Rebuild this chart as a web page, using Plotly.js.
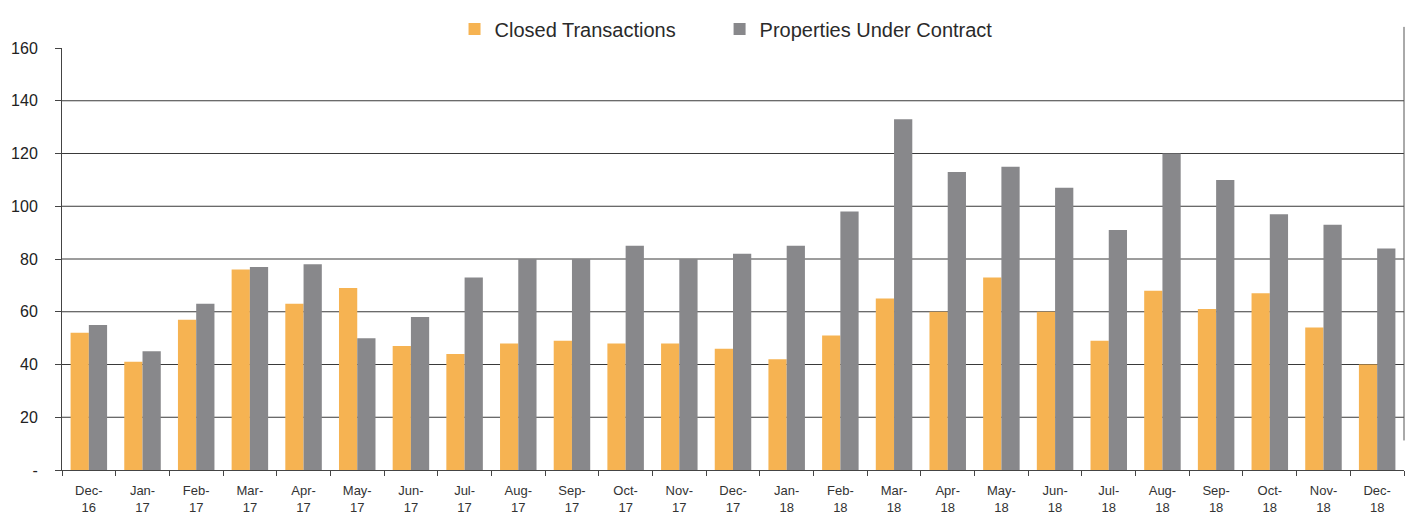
<!DOCTYPE html>
<html>
<head>
<meta charset="utf-8">
<script src="https://cdn.plot.ly/plotly-3.0.1.min.js"></script>
<style>html,body{margin:0;padding:0;background:#fff;}#chart{width:1414px;height:514px;}</style>
</head>
<body>
<div id="chart"></div>
<script>
const months = ["Dec-<br>16","Jan-<br>17","Feb-<br>17","Mar-<br>17","Apr-<br>17","May-<br>17","Jun-<br>17","Jul-<br>17","Aug-<br>17","Sep-<br>17","Oct-<br>17","Nov-<br>17","Dec-<br>17","Jan-<br>18","Feb-<br>18","Mar-<br>18","Apr-<br>18","May-<br>18","Jun-<br>18","Jul-<br>18","Aug-<br>18","Sep-<br>18","Oct-<br>18","Nov-<br>18","Dec-<br>18"];
const closedTransactions = [52,41,57,76,63,69,47,44,48,49,48,48,46,42,51,65,60,73,60,49,68,61,67,54,40];
const propertiesUnderContract = [55,45,63,77,78,50,58,73,80,80,85,80,82,85,98,133,113,115,107,91,120,110,97,93,84];
const yTickVals = [0,20,40,60,80,100,120,140,160];
const yTickText = ["-","20","40","60","80","100","120","140","160"];
const gridVals = [20,40,60,80,100,120,140];

const font = "Liberation Sans, Arial, sans-serif";

const traces = [
  {type:"bar", name:"Closed Transactions", x:months, y:closedTransactions, marker:{color:"#F6B352"}, legend:"legend"},
  {type:"bar", name:"Properties Under Contract", x:months, y:propertiesUnderContract, marker:{color:"#88888B"}, legend:"legend2"}
];

const shapes = gridVals.map(v => ({type:"line", xref:"paper", yref:"y", x0:0, x1:1, y0:v, y1:v, line:{color:"#3a3a3a", width:1}, layer:"below"}));
shapes.push({type:"line", xref:"paper", yref:"paper", x0:1.0, x1:1.0, y0:0.07, y1:1.05, line:{color:"#555", width:1}});

const legendStyle = {orientation:"h", y:1.045, xanchor:"left", yanchor:"middle", font:{size:20, color:"#2a2a2a", family:font}, itemwidth:30, bgcolor:"rgba(0,0,0,0)"};

const layout = {
  width:1414, height:514,
  margin:{l:62, r:10, t:40, b:44},
  paper_bgcolor:"#fff", plot_bgcolor:"#fff",
  font:{family:font, color:"#222"},
  barmode:"group", bargap:0.32, bargroupgap:0,
  showlegend:true,
  legend:Object.assign({x:0.2925}, legendStyle),
  legend2:Object.assign({x:0.49}, legendStyle),
  xaxis:{type:"category", tickson:"boundaries", ticks:"outside", ticklen:5, tickcolor:"#444", showline:true, linecolor:"#444", linewidth:1, showgrid:false, tickfont:{size:13, color:"#333"}, tickangle:0, ticklabelstandoff:8, automargin:false},
  yaxis:{range:[0,160], tickvals:yTickVals, ticktext:yTickText, ticks:"outside", ticklen:6, tickcolor:"#444", showline:true, linecolor:"#444", linewidth:1, showgrid:false, zeroline:false, tickfont:{size:16, color:"#222"}, ticklabelstandoff:14, automargin:false},
  shapes:shapes
};

Plotly.newPlot("chart", traces, layout, {displayModeBar:false, staticPlot:true});
</script>
</body>
</html>
